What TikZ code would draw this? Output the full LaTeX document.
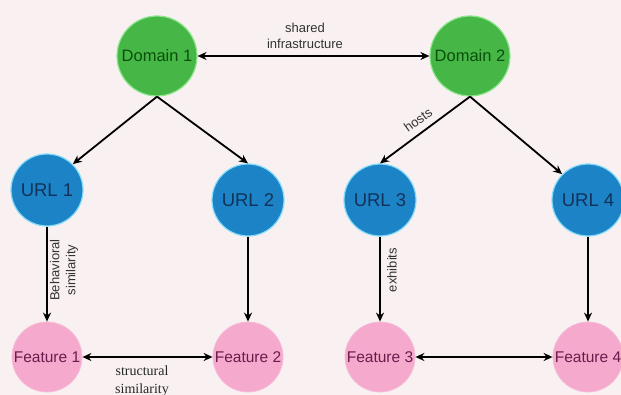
\documentclass[tikz,border=0pt]{standalone}
\usepackage{fontspec}
\setmainfont{Liberation Sans}
\newfontfamily\seriffont{Liberation Serif}
\usetikzlibrary{arrows.meta}
\definecolor{bgcol}{HTML}{F9F1F1}
\definecolor{domfill}{HTML}{46B646}
\definecolor{domline}{HTML}{8EE68E}
\definecolor{domtext}{HTML}{0A500A}
\definecolor{urlfill}{HTML}{1C84C6}
\definecolor{urlline}{HTML}{86DCF8}
\definecolor{urltext}{HTML}{12325A}
\definecolor{featfill}{HTML}{F5A9CC}
\definecolor{featline}{HTML}{F8BCD8}
\definecolor{feattext}{HTML}{6A1C4C}
\tikzset{
  domnode/.style={circle, fill=domfill, draw=domline, line width=1.2pt, minimum size=80pt, inner sep=0pt, text=domtext, font=\fontsize{16.5}{18}\selectfont},
  urlnode/.style={circle, fill=urlfill, draw=urlline, line width=1.2pt, minimum size=72pt, inner sep=0pt, text=urltext, font=\fontsize{18.5}{20}\selectfont},
  featnode/.style={circle, fill=featfill, draw=featline, line width=0.8pt, minimum size=70pt, inner sep=0pt, text=feattext, font=\fontsize{15.5}{17}\selectfont},
  conn/.style={line width=1.8pt, -{Stealth[length=9pt,width=8pt]}},
  biconn/.style={line width=1.8pt, {Stealth[length=9pt,width=8pt]}-{Stealth[length=9pt,width=8pt]}},
  lbl/.style={font=\fontsize{13}{16}\selectfont, text=black!80, align=center, inner sep=0pt},
  serlbl/.style={font=\seriffont\fontsize{14}{18}\selectfont, text=black!85, align=center, inner sep=0pt}
}
\begin{document}
\begin{tikzpicture}[x=1pt, y=-1pt]
\fill[bgcol] (0,0) rectangle (621,395);
\useasboundingbox (0,0) rectangle (621,395);
\node[domnode] (d1) at (157,56) {Domain 1};
\node[domnode] (d2) at (470,56) {Domain 2};
\node[urlnode] (u1) at (47,190) {URL 1};
\node[urlnode] (u2) at (248,200) {URL 2};
\node[urlnode] (u3) at (380,200) {URL 3};
\node[urlnode] (u4) at (588,200) {URL 4};
\node[featnode] (f1) at (47,357) {Feature 1};
\node[featnode] (f2) at (248,357) {Feature 2};
\node[featnode] (f3) at (380,357) {Feature 3};
\node[featnode] (f4) at (588,357) {Feature 4};
\draw[biconn] (d1.east) -- (d2.west);
\draw[conn] (d1.south) -- (u1.45);
\draw[conn] (d1.south) -- (u2.north);
\draw[conn] (d2.south) -- (u3.north);
\draw[conn] (d2.south) -- (u4.135);
\draw[conn] (u1.south) -- (f1.north);
\draw[conn] (u2.south) -- (f2.north);
\draw[conn] (u3.south) -- (f3.north);
\draw[conn] (u4.south) -- (f4.north);
\draw[biconn] (f1.east) -- (f2.west);
\draw[biconn] (f3.east) -- (f4.west);
\node[lbl] (lshared) at (305,36) {shared\\infrastructure};
\node[lbl, rotate=36] (lhosts) at (418,120) {hosts};
\node[lbl, rotate=90] (lbeh) at (64,270) {Behavioral\\similarity};
\node[lbl, rotate=90] (lexh) at (392,270) {exhibits};
\node[serlbl] (lstruct) at (142,381) {structural\\similarity};
\end{tikzpicture}
\end{document}
